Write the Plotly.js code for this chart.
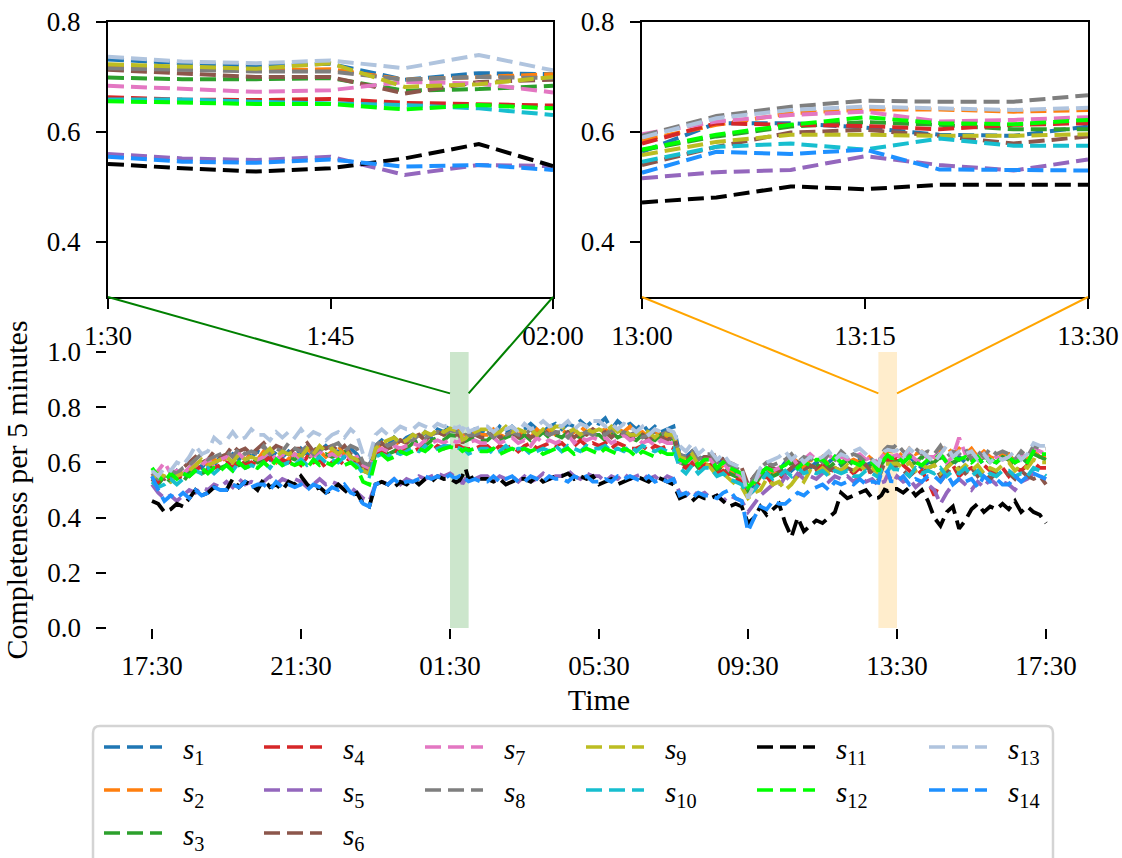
<!DOCTYPE html>
<html>
<head>
<meta charset="utf-8">
<script src="https://cdn.plot.ly/plotly-3.0.1.min.js"></script>
<style>html,body{margin:0;padding:0;background:#fff}#chart{width:1122px;height:858px}</style>
</head>
<body>
<div id="chart"></div>
<script>
// ---------- labels ----------
const seriesNames = ['s1','s2','s3','s4','s5','s6','s7','s8','s9','s10','s11','s12','s13','s14'];
const seriesColors = ['#1f77b4','#ff7f0e','#2ca02c','#d62728','#9467bd','#8c564b','#e377c2','#7f7f7f','#bcbd22','#17becf','#000000','#00ff00','#b0c4de','#1e90ff'];
const mainTickLabels = ['17:30','21:30','01:30','05:30','09:30','13:30','17:30'];
const inset1TickLabels = ['1:30','1:45','02:00'];
const inset2TickLabels = ['13:00','13:15','13:30'];
const xLabel = 'Time';
const yLabel = 'Completeness per 5 minutes';

// ---------- main series: every 10 minutes from 17:30 to 17:30 (next day), one line per hour ----------
const s1 = [0.55,0.53,0.56,0.54,0.57,0.55, 0.58,0.60,0.58,0.61,0.59,0.62, 0.61,0.63,0.61,0.64,0.62,0.64, 0.63,0.61,0.64,0.62,0.64,0.62,
  0.65,0.63,0.65,0.64,0.66,0.64, 0.64,0.62,0.65,0.63,0.59,0.58, 0.66,0.68,0.66,0.69,0.67,0.69, 0.70,0.68,0.71,0.69,0.72,0.71,
  0.732,0.720,0.695,0.705,0.72,0.71, 0.72,0.70,0.73,0.71,0.73,0.71, 0.72,0.74,0.72,0.71,0.73,0.74, 0.72,0.74,0.73,0.75,0.73,0.75,
  0.74,0.76,0.72,0.75,0.73,0.74, 0.72,0.74,0.71,0.73,0.71,0.72, 0.73,0.63,0.62,0.64,0.61,0.62, 0.62,0.59,0.61,0.58,0.56,0.55,
  0.50,0.52,0.56,0.58,0.55,0.57, 0.60,0.57,0.59,0.61,0.58,0.60, 0.58,0.60,0.62,0.59,0.61,0.60, 0.61,0.59,0.60,0.564,0.616,0.595,
  0.61,0.60,0.62,0.60,0.58,0.60, 0.61,0.63,0.60,0.59,0.62,0.60, 0.60,0.62,0.59,0.61,0.60,0.62, 0.63,0.60,0.62,0.60,0.64,0.62, 0.62];
const s2 = [0.56,0.54,0.55,0.57,0.55,0.57, 0.56,0.59,0.61,0.59,0.61,0.60, 0.62,0.60,0.63,0.61,0.63,0.61, 0.64,0.62,0.60,0.63,0.61,0.63,
  0.62,0.65,0.63,0.64,0.62,0.64, 0.66,0.63,0.64,0.62,0.58,0.57, 0.64,0.67,0.65,0.66,0.68,0.67, 0.69,0.70,0.68,0.70,0.71,0.70,
  0.718,0.712,0.695,0.705,0.71,0.70, 0.70,0.72,0.70,0.69,0.71,0.70, 0.71,0.69,0.72,0.70,0.72,0.70, 0.72,0.70,0.71,0.73,0.71,0.72,
  0.71,0.72,0.70,0.72,0.71,0.73, 0.70,0.71,0.69,0.71,0.70,0.69, 0.71,0.61,0.60,0.62,0.59,0.60, 0.60,0.57,0.59,0.57,0.55,0.54,
  0.48,0.51,0.55,0.58,0.56,0.57, 0.59,0.62,0.60,0.58,0.61,0.60, 0.62,0.59,0.61,0.63,0.60,0.61, 0.60,0.63,0.61,0.585,0.634,0.641,
  0.64,0.62,0.65,0.63,0.64,0.62, 0.61,0.64,0.66,0.63,0.65,0.63, 0.65,0.62,0.64,0.62,0.61,0.63, 0.63,0.60,0.62,0.61,0.64,0.62, 0.62];
const s3 = [0.54,0.52,0.55,0.53,0.55,0.53, 0.56,0.58,0.56,0.57,0.60,0.58, 0.59,0.61,0.59,0.60,0.62,0.60, 0.61,0.63,0.61,0.60,0.62,0.61,
  0.63,0.61,0.64,0.62,0.63,0.62, 0.63,0.65,0.62,0.61,0.57,0.56, 0.63,0.65,0.63,0.64,0.66,0.65, 0.67,0.68,0.66,0.68,0.69,0.68,
  0.699,0.696,0.675,0.684,0.69,0.68, 0.68,0.70,0.68,0.69,0.70,0.68, 0.70,0.68,0.69,0.71,0.69,0.70, 0.69,0.71,0.70,0.69,0.71,0.70,
  0.70,0.68,0.71,0.69,0.70,0.69, 0.68,0.70,0.69,0.68,0.70,0.68, 0.69,0.60,0.59,0.61,0.58,0.59, 0.60,0.57,0.59,0.56,0.55,0.54,
  0.49,0.52,0.55,0.57,0.55,0.56, 0.58,0.60,0.58,0.57,0.59,0.58, 0.61,0.58,0.60,0.59,0.61,0.59, 0.60,0.58,0.59,0.567,0.610,0.613,
  0.605,0.61,0.59,0.60,0.62,0.60, 0.60,0.62,0.59,0.60,0.61,0.60, 0.63,0.60,0.62,0.61,0.60,0.62, 0.61,0.59,0.62,0.60,0.63,0.62, 0.61];
const s4 = [0.55,0.53,0.56,0.54,0.55,0.54, 0.55,0.57,0.59,0.57,0.58,0.59, 0.60,0.58,0.61,0.59,0.60,0.59, 0.60,0.62,0.59,0.61,0.60,0.61,
  0.59,0.62,0.60,0.61,0.58,0.60, 0.61,0.59,0.62,0.60,0.58,0.57, 0.62,0.64,0.62,0.63,0.65,0.64, 0.64,0.65,0.66,0.64,0.66,0.65,
  0.663,0.658,0.653,0.648,0.65,0.66, 0.66,0.64,0.66,0.65,0.66,0.64, 0.66,0.67,0.65,0.66,0.67,0.66, 0.67,0.65,0.66,0.68,0.66,0.67,
  0.66,0.67,0.65,0.67,0.66,0.65, 0.65,0.66,0.64,0.66,0.65,0.66, 0.65,0.59,0.58,0.60,0.57,0.59, 0.59,0.56,0.57,0.55,0.54,0.53,
  0.48,0.50,0.53,0.55,0.52,0.54, 0.56,0.58,0.55,0.57,0.56,0.57, 0.59,0.56,0.58,0.57,0.58,0.56, 0.58,0.56,0.57,0.579,0.613,0.605,
  0.616,0.59,0.57,0.55,0.57,0.53, 0.48,0.53,0.56,0.59,0.55,0.57, 0.58,0.56,0.59,0.57,0.56,0.58, 0.55,0.58,0.57,0.59,0.60,0.58, 0.58];
const s5 = [0.52,0.49,0.47,0.48,0.46,0.48, 0.50,0.49,0.51,0.50,0.52,0.51, 0.53,0.51,0.54,0.52,0.53,0.52, 0.53,0.55,0.52,0.54,0.53,0.54,
  0.53,0.51,0.52,0.54,0.52,0.53, 0.52,0.50,0.51,0.49,0.47,0.46, 0.52,0.53,0.52,0.54,0.52,0.54, 0.53,0.55,0.54,0.55,0.56,0.55,
  0.560,0.549,0.522,0.538,0.54,0.55, 0.55,0.53,0.55,0.54,0.55,0.53, 0.55,0.53,0.54,0.56,0.54,0.55, 0.55,0.57,0.55,0.54,0.56,0.55,
  0.55,0.53,0.55,0.54,0.56,0.54, 0.55,0.56,0.54,0.55,0.53,0.55, 0.54,0.49,0.48,0.50,0.48,0.49, 0.47,0.48,0.46,0.48,0.47,0.46,
  0.42,0.45,0.48,0.50,0.52,0.51, 0.55,0.53,0.56,0.54,0.55,0.54, 0.56,0.53,0.55,0.54,0.55,0.53, 0.55,0.53,0.54,0.516,0.531,0.540,
  0.55,0.53,0.54,0.51,0.53,0.52, 0.50,0.45,0.49,0.52,0.54,0.52, 0.50,0.53,0.51,0.54,0.52,0.53, 0.52,0.50,0.53,0.54,0.56,0.55, 0.54];
const s6 = [0.53,0.55,0.54,0.57,0.55,0.58, 0.60,0.62,0.60,0.61,0.64,0.62, 0.63,0.66,0.64,0.65,0.63,0.65, 0.67,0.64,0.66,0.65,0.63,0.65,
  0.65,0.67,0.64,0.66,0.65,0.66, 0.64,0.66,0.63,0.62,0.58,0.57, 0.65,0.67,0.65,0.66,0.68,0.67, 0.69,0.70,0.68,0.70,0.71,0.70,
  0.713,0.700,0.670,0.695,0.70,0.69, 0.69,0.71,0.69,0.70,0.71,0.69, 0.71,0.69,0.70,0.72,0.70,0.71, 0.70,0.71,0.69,0.71,0.70,0.72,
  0.70,0.71,0.69,0.71,0.70,0.69, 0.69,0.70,0.68,0.70,0.69,0.68, 0.70,0.62,0.61,0.63,0.60,0.62, 0.62,0.63,0.61,0.60,0.59,0.58,
  0.52,0.55,0.57,0.59,0.58,0.57, 0.56,0.58,0.60,0.57,0.59,0.58, 0.59,0.57,0.58,0.56,0.58,0.57, 0.57,0.59,0.56,0.540,0.599,0.593,
  0.592,0.57,0.55,0.57,0.56,0.58, 0.59,0.55,0.57,0.56,0.58,0.56, 0.58,0.55,0.57,0.54,0.56,0.55, 0.56,0.54,0.57,0.55,0.54,0.55, 0.52];
const s7 = [0.55,0.57,0.60,0.56,0.57,0.56, 0.58,0.60,0.59,0.61,0.59,0.61, 0.62,0.60,0.63,0.61,0.62,0.61, 0.62,0.64,0.61,0.63,0.62,0.63,
  0.61,0.63,0.62,0.64,0.62,0.63, 0.62,0.64,0.61,0.62,0.59,0.58, 0.64,0.65,0.64,0.66,0.65,0.66, 0.67,0.66,0.68,0.67,0.68,0.67,
  0.684,0.673,0.691,0.672,0.68,0.67, 0.67,0.69,0.67,0.68,0.69,0.67, 0.68,0.66,0.69,0.67,0.68,0.67, 0.68,0.70,0.67,0.69,0.68,0.69,
  0.68,0.69,0.67,0.68,0.70,0.68, 0.69,0.67,0.68,0.66,0.68,0.67, 0.67,0.60,0.59,0.62,0.59,0.61, 0.61,0.58,0.60,0.57,0.56,0.55,
  0.51,0.53,0.56,0.58,0.57,0.58, 0.60,0.62,0.59,0.61,0.63,0.61, 0.61,0.63,0.60,0.62,0.61,0.62, 0.63,0.61,0.62,0.596,0.631,0.619,
  0.627,0.61,0.63,0.61,0.60,0.62, 0.62,0.64,0.60,0.62,0.69,0.63, 0.62,0.60,0.63,0.61,0.62,0.61, 0.62,0.60,0.63,0.62,0.65,0.64, 0.63];
const s8 = [0.56,0.54,0.55,0.57,0.56,0.58, 0.59,0.61,0.63,0.61,0.62,0.63, 0.64,0.62,0.65,0.63,0.64,0.63, 0.66,0.63,0.65,0.64,0.67,0.65,
  0.64,0.66,0.63,0.65,0.64,0.66, 0.67,0.64,0.66,0.65,0.60,0.59, 0.66,0.68,0.66,0.67,0.69,0.68, 0.68,0.70,0.69,0.70,0.71,0.70,
  0.716,0.710,0.695,0.698,0.70,0.71, 0.71,0.69,0.71,0.70,0.71,0.70, 0.70,0.72,0.70,0.71,0.70,0.71, 0.71,0.69,0.72,0.70,0.71,0.70,
  0.71,0.70,0.72,0.70,0.71,0.70, 0.71,0.69,0.70,0.71,0.70,0.71, 0.69,0.63,0.62,0.64,0.61,0.63, 0.63,0.60,0.61,0.59,0.58,0.57,
  0.50,0.55,0.58,0.60,0.59,0.60, 0.61,0.63,0.60,0.62,0.61,0.62, 0.60,0.63,0.61,0.64,0.62,0.63, 0.62,0.60,0.61,0.593,0.646,0.655,
  0.667,0.64,0.62,0.65,0.63,0.64, 0.63,0.66,0.62,0.64,0.63,0.65, 0.61,0.64,0.62,0.65,0.63,0.64, 0.63,0.61,0.64,0.62,0.66,0.65, 0.65];
const s9 = [0.54,0.56,0.55,0.53,0.55,0.56, 0.57,0.59,0.61,0.59,0.60,0.61, 0.62,0.60,0.63,0.61,0.62,0.61, 0.63,0.65,0.62,0.64,0.63,0.64,
  0.62,0.65,0.63,0.66,0.64,0.65, 0.63,0.65,0.62,0.61,0.57,0.56, 0.65,0.67,0.68,0.69,0.67,0.68, 0.70,0.69,0.71,0.70,0.72,0.71,
  0.723,0.715,0.682,0.700,0.71,0.72, 0.72,0.70,0.71,0.73,0.71,0.72, 0.71,0.72,0.70,0.72,0.71,0.73, 0.73,0.71,0.72,0.70,0.72,0.71,
  0.72,0.71,0.73,0.71,0.72,0.70, 0.70,0.72,0.71,0.69,0.71,0.70, 0.70,0.62,0.61,0.63,0.59,0.60, 0.58,0.55,0.56,0.54,0.52,0.51,
  0.47,0.49,0.50,0.54,0.52,0.53, 0.50,0.52,0.55,0.53,0.57,0.56, 0.58,0.56,0.58,0.57,0.59,0.57, 0.59,0.57,0.58,0.558,0.595,0.593,
  0.596,0.58,0.60,0.57,0.59,0.58, 0.59,0.56,0.58,0.60,0.57,0.59, 0.57,0.59,0.56,0.58,0.57,0.59, 0.60,0.57,0.59,0.58,0.61,0.60, 0.60];
const s10 = [0.53,0.51,0.52,0.54,0.52,0.54, 0.55,0.57,0.56,0.58,0.56,0.58, 0.59,0.57,0.60,0.58,0.59,0.58, 0.60,0.58,0.61,0.59,0.60,0.59,
  0.61,0.59,0.60,0.62,0.60,0.61, 0.60,0.62,0.60,0.59,0.56,0.55, 0.62,0.63,0.62,0.64,0.63,0.64, 0.65,0.64,0.66,0.64,0.65,0.66,
  0.659,0.655,0.649,0.631,0.64,0.65, 0.65,0.63,0.64,0.66,0.64,0.65, 0.65,0.63,0.64,0.65,0.64,0.66, 0.64,0.66,0.65,0.64,0.66,0.65,
  0.65,0.66,0.64,0.65,0.64,0.66, 0.64,0.66,0.65,0.64,0.65,0.64, 0.65,0.58,0.56,0.59,0.56,0.58, 0.58,0.55,0.56,0.54,0.53,0.52,
  0.48,0.50,0.53,0.56,0.54,0.55, 0.57,0.55,0.58,0.56,0.57,0.56, 0.57,0.55,0.57,0.56,0.57,0.55, 0.55,0.57,0.56,0.546,0.579,0.588,
  0.575,0.57,0.55,0.58,0.56,0.57, 0.56,0.58,0.55,0.57,0.56,0.58, 0.55,0.57,0.54,0.56,0.55,0.57, 0.57,0.55,0.56,0.55,0.58,0.57, 0.55];
const s11 = [0.46,0.45,0.42,0.43,0.45,0.44, 0.47,0.50,0.48,0.49,0.51,0.50, 0.50,0.54,0.51,0.53,0.52,0.50, 0.54,0.51,0.52,0.50,0.53,0.52,
  0.55,0.52,0.50,0.51,0.49,0.50, 0.52,0.50,0.48,0.49,0.45,0.44, 0.52,0.53,0.52,0.51,0.53,0.52, 0.54,0.52,0.54,0.53,0.55,0.54,
  0.542,0.528,0.552,0.538,0.55,0.54, 0.54,0.53,0.54,0.52,0.53,0.54, 0.54,0.53,0.55,0.53,0.54,0.55, 0.55,0.56,0.54,0.55,0.54,0.55,
  0.52,0.53,0.54,0.52,0.53,0.54, 0.55,0.54,0.53,0.55,0.54,0.53, 0.52,0.47,0.48,0.46,0.48,0.47, 0.47,0.48,0.46,0.44,0.45,0.44,
  0.38,0.40,0.44,0.41,0.43,0.45, 0.38,0.33,0.40,0.35,0.37,0.39, 0.38,0.40,0.42,0.49,0.47,0.48, 0.49,0.50,0.47,0.472,0.501,0.504,
  0.504,0.49,0.51,0.48,0.50,0.46, 0.40,0.37,0.42,0.44,0.36,0.39, 0.43,0.45,0.42,0.44,0.43,0.45, 0.43,0.46,0.42,0.44,0.42,0.41, 0.38];
const s12 = [0.58,0.55,0.53,0.56,0.54,0.56, 0.55,0.57,0.58,0.56,0.58,0.57, 0.59,0.57,0.60,0.58,0.59,0.58, 0.60,0.58,0.61,0.59,0.60,0.59,
  0.60,0.58,0.61,0.59,0.60,0.59, 0.61,0.59,0.60,0.58,0.53,0.52, 0.61,0.63,0.61,0.62,0.64,0.63, 0.64,0.65,0.64,0.66,0.64,0.65,
  0.656,0.651,0.641,0.643,0.65,0.64, 0.64,0.65,0.63,0.64,0.65,0.64, 0.65,0.64,0.65,0.63,0.64,0.65, 0.64,0.65,0.63,0.64,0.65,0.64,
  0.63,0.65,0.64,0.63,0.65,0.64, 0.62,0.64,0.63,0.62,0.64,0.63, 0.63,0.61,0.60,0.62,0.59,0.61, 0.61,0.58,0.60,0.58,0.57,0.56,
  0.51,0.53,0.56,0.58,0.57,0.58, 0.59,0.61,0.58,0.60,0.59,0.61, 0.61,0.59,0.62,0.60,0.61,0.60, 0.59,0.61,0.60,0.568,0.613,0.616,
  0.622,0.60,0.62,0.60,0.59,0.61, 0.61,0.63,0.60,0.62,0.61,0.62, 0.60,0.62,0.59,0.61,0.60,0.62, 0.62,0.60,0.61,0.60,0.64,0.63, 0.63];
const s13 = [0.57,0.55,0.58,0.57,0.60,0.59, 0.62,0.66,0.63,0.64,0.69,0.67, 0.68,0.71,0.68,0.69,0.72,0.70, 0.70,0.68,0.71,0.69,0.71,0.69,
  0.72,0.69,0.71,0.70,0.68,0.70, 0.71,0.69,0.72,0.70,0.63,0.62, 0.70,0.72,0.70,0.71,0.73,0.72, 0.72,0.74,0.73,0.72,0.74,0.73,
  0.737,0.725,0.716,0.712,0.72,0.73, 0.73,0.71,0.73,0.72,0.73,0.71, 0.74,0.72,0.73,0.75,0.73,0.74, 0.73,0.75,0.72,0.74,0.73,0.75,
  0.75,0.73,0.74,0.72,0.74,0.73, 0.71,0.73,0.70,0.72,0.71,0.72, 0.71,0.66,0.64,0.67,0.63,0.65, 0.64,0.61,0.63,0.60,0.59,0.58,
  0.47,0.52,0.58,0.60,0.61,0.62, 0.64,0.61,0.63,0.60,0.62,0.61, 0.62,0.64,0.61,0.63,0.62,0.64, 0.65,0.63,0.61,0.590,0.640,0.643,
  0.644,0.62,0.65,0.63,0.64,0.62, 0.60,0.63,0.66,0.62,0.64,0.63, 0.64,0.61,0.63,0.60,0.62,0.61, 0.62,0.64,0.61,0.63,0.67,0.66, 0.66];
const s14 = [0.55,0.50,0.46,0.48,0.47,0.49, 0.47,0.50,0.48,0.49,0.51,0.50, 0.50,0.52,0.51,0.53,0.51,0.52, 0.52,0.50,0.53,0.51,0.52,0.51,
  0.52,0.50,0.52,0.51,0.49,0.51, 0.50,0.52,0.49,0.48,0.45,0.44, 0.52,0.53,0.52,0.54,0.52,0.53, 0.53,0.54,0.55,0.54,0.55,0.54,
  0.555,0.544,0.537,0.531,0.54,0.53, 0.53,0.55,0.53,0.54,0.55,0.53, 0.53,0.55,0.54,0.53,0.55,0.54, 0.54,0.53,0.55,0.54,0.55,0.53,
  0.53,0.54,0.53,0.55,0.54,0.55, 0.54,0.53,0.55,0.53,0.54,0.53, 0.54,0.48,0.49,0.47,0.49,0.48, 0.48,0.47,0.49,0.50,0.47,0.46,
  0.35,0.40,0.44,0.43,0.46,0.45, 0.45,0.47,0.49,0.48,0.50,0.51, 0.52,0.50,0.53,0.52,0.53,0.52, 0.54,0.52,0.53,0.526,0.560,0.532,
  0.53,0.55,0.52,0.54,0.53,0.55, 0.55,0.53,0.56,0.52,0.54,0.53, 0.54,0.51,0.55,0.53,0.54,0.52, 0.52,0.55,0.53,0.55,0.56,0.55, 0.54];

// ---------- zoomed windows: every 5 minutes, 01:30-02:00 ----------
const win1_s1  = [0.732,0.725,0.720,0.724,0.695,0.707,0.705];
const win1_s2  = [0.718,0.714,0.712,0.714,0.695,0.700,0.705];
const win1_s3  = [0.699,0.696,0.696,0.698,0.675,0.678,0.684];
const win1_s4  = [0.663,0.659,0.658,0.660,0.653,0.650,0.648];
const win1_s5  = [0.560,0.552,0.549,0.555,0.522,0.540,0.538];
const win1_s6  = [0.713,0.707,0.700,0.700,0.670,0.691,0.695];
const win1_s7  = [0.684,0.679,0.673,0.676,0.691,0.688,0.672];
const win1_s8  = [0.716,0.713,0.710,0.710,0.695,0.700,0.698];
const win1_s9  = [0.723,0.719,0.715,0.725,0.682,0.687,0.700];
const win1_s10 = [0.659,0.659,0.655,0.652,0.649,0.643,0.631];
const win1_s11 = [0.542,0.534,0.528,0.534,0.552,0.578,0.538];
const win1_s12 = [0.656,0.653,0.651,0.651,0.641,0.649,0.643];
const win1_s13 = [0.737,0.728,0.725,0.730,0.716,0.740,0.712];
const win1_s14 = [0.555,0.546,0.544,0.550,0.537,0.540,0.531];

// ---------- zoomed windows: every 5 minutes, 13:00-13:30 ----------
const win2_s1  = [0.564,0.616,0.616,0.608,0.595,0.593,0.610];
const win2_s2  = [0.585,0.613,0.634,0.641,0.641,0.637,0.640];
const win2_s3  = [0.567,0.592,0.610,0.618,0.613,0.605,0.605];
const win2_s4  = [0.579,0.616,0.613,0.611,0.605,0.613,0.616];
const win2_s5  = [0.516,0.527,0.531,0.556,0.540,0.530,0.550];
const win2_s6  = [0.540,0.573,0.599,0.604,0.593,0.579,0.592];
const win2_s7  = [0.596,0.619,0.631,0.637,0.619,0.622,0.627];
const win2_s8  = [0.593,0.629,0.646,0.657,0.655,0.655,0.667];
const win2_s9  = [0.558,0.582,0.595,0.595,0.593,0.593,0.596];
const win2_s10 = [0.546,0.573,0.579,0.568,0.588,0.575,0.575];
const win2_s11 = [0.472,0.481,0.501,0.496,0.504,0.504,0.504];
const win2_s12 = [0.568,0.595,0.613,0.627,0.616,0.614,0.622];
const win2_s13 = [0.590,0.625,0.640,0.646,0.643,0.640,0.644];
const win2_s14 = [0.526,0.564,0.560,0.568,0.532,0.531,0.530];

// ---------- assemble ----------
const baseSeries = [s1,s2,s3,s4,s5,s6,s7,s8,s9,s10,s11,s12,s13,s14];
const win1Series = [win1_s1,win1_s2,win1_s3,win1_s4,win1_s5,win1_s6,win1_s7,win1_s8,win1_s9,win1_s10,win1_s11,win1_s12,win1_s13,win1_s14];
const win2Series = [win2_s1,win2_s2,win2_s3,win2_s4,win2_s5,win2_s6,win2_s7,win2_s8,win2_s9,win2_s10,win2_s11,win2_s12,win2_s13,win2_s14];

// x in hours since 17:30
const BASE_STEP = 10/60, WIN_STEP = 5/60;
const W1 = [8, 8.5], W2 = [19.5, 20];
const inWin = (h, w) => h >= w[0] - 1e-6 && h <= w[1] + 1e-6;
const winX = (w, n) => Array.from({length:n}, (_, j) => w[0] + j*WIN_STEP);

const DASH = '16px,7px';
const LW_MAIN = 3.8, LW_INSET = 4;
const traces = [];
baseSeries.forEach((arr, k) => {
  const pts = [];
  arr.forEach((v, i) => { const h = i*BASE_STEP; if (!inWin(h, W1) && !inWin(h, W2)) pts.push([h, v]); });
  win1Series[k].forEach((v, j) => pts.push([W1[0] + j*WIN_STEP, v]));
  win2Series[k].forEach((v, j) => pts.push([W2[0] + j*WIN_STEP, v]));
  pts.sort((a, b) => a[0] - b[0]);
  traces.push({type:'scatter', mode:'lines', name:seriesNames[k], x:pts.map(p=>p[0]), y:pts.map(p=>p[1]),
    xaxis:'x', yaxis:'y', line:{color:seriesColors[k], width:LW_MAIN, dash:DASH}, showlegend:false, hoverinfo:'skip'});
});
baseSeries.forEach((arr, k) => {
  traces.push({type:'scatter', mode:'lines', name:seriesNames[k], x:winX(W1, win1Series[k].length), y:win1Series[k],
    xaxis:'x2', yaxis:'y2', line:{color:seriesColors[k], width:LW_INSET, dash:DASH}, showlegend:false, hoverinfo:'skip'});
});
baseSeries.forEach((arr, k) => {
  traces.push({type:'scatter', mode:'lines', name:seriesNames[k], x:winX(W2, win2Series[k].length), y:win2Series[k],
    xaxis:'x3', yaxis:'y3', line:{color:seriesColors[k], width:LW_INSET, dash:DASH}, showlegend:false, hoverinfo:'skip'});
});

// ---------- geometry ----------
const W = 1122, H = 858;
const px2x = px => px / W, px2y = py => 1 - py / H;
const mainXDom = [px2x(107.3), px2x(1090.7)], mainYDom = [px2y(628), px2y(352)];
const mainXRange = [-1.2, 25.2], mainYRange = [0, 1];
const ins1XDom = [px2x(108), px2x(553)], ins2XDom = [px2x(642), px2x(1088)], insYDom = [px2y(297), px2y(22)];
const mainPX = h => mainXDom[0] + (h - mainXRange[0])/(mainXRange[1]-mainXRange[0])*(mainXDom[1]-mainXDom[0]);
const mainPY = v => mainYDom[0] + (v - mainYRange[0])/(mainYRange[1]-mainYRange[0])*(mainYDom[1]-mainYDom[0]);

const FONT = 'Liberation Serif, Times New Roman, serif';
const tickFont = {family:FONT, size:27, color:'#000'};
const titleFont = {family:FONT, size:30, color:'#000'};

const shapes = [
  {type:'rect', xref:'x', yref:'y', x0:W1[0], x1:W1[1], y0:0, y1:1, fillcolor:'rgba(0,128,0,0.2)', line:{width:0}, layer:'below'},
  {type:'rect', xref:'x', yref:'y', x0:W2[0], x1:W2[1], y0:0, y1:1, fillcolor:'rgba(255,165,0,0.2)', line:{width:0}, layer:'below'},
  {type:'line', xref:'paper', yref:'paper', x0:ins1XDom[0], y0:insYDom[0], x1:mainPX(W1[0]), y1:mainPY(0.85), line:{color:'#008000', width:2}},
  {type:'line', xref:'paper', yref:'paper', x0:ins1XDom[1], y0:insYDom[0], x1:mainPX(W1[1]), y1:mainPY(0.85), line:{color:'#008000', width:2}},
  {type:'line', xref:'paper', yref:'paper', x0:ins2XDom[0], y0:insYDom[0], x1:mainPX(W2[0]), y1:mainPY(0.85), line:{color:'#ffa500', width:2}},
  {type:'line', xref:'paper', yref:'paper', x0:ins2XDom[1], y0:insYDom[0], x1:mainPX(W2[1]), y1:mainPY(0.85), line:{color:'#ffa500', width:2}}
];

// legend box (rounded) in pixels -> paper
const lb = {l:93, t:726, r:1053, b:880, rad:7};
const P = (x, y) => px2x(x).toFixed(5) + ',' + px2y(y).toFixed(5);
shapes.push({type:'path', xref:'paper', yref:'paper', layer:'above',
  path:'M' + P(lb.l+lb.rad, lb.t) + ' L' + P(lb.r-lb.rad, lb.t) + ' Q' + P(lb.r, lb.t) + ' ' + P(lb.r, lb.t+lb.rad) +
       ' L' + P(lb.r, lb.b) + ' L' + P(lb.l, lb.b) + ' L' + P(lb.l, lb.t+lb.rad) + ' Q' + P(lb.l, lb.t) + ' ' + P(lb.l+lb.rad, lb.t) + ' Z',
  fillcolor:'rgba(255,255,255,0.8)', line:{color:'#d4d4d4', width:2.5}});

// legend entries, column-major like the original (6 columns)
const legColX = [104, 264, 425, 586, 757, 929];
const legRowY = [747, 790, 833];
const perCol = [3, 3, 2, 2, 2, 2];
const annotations = [];
let idx = 0;
perCol.forEach((n, c) => {
  for (let r = 0; r < n; r++, idx++) {
    const y = legRowY[r], x = legColX[c];
    shapes.push({type:'line', xref:'paper', yref:'paper', x0:px2x(x), x1:px2x(x+58), y0:px2y(y), y1:px2y(y),
      line:{color:seriesColors[idx], width:3.5, dash:DASH}, layer:'above'});
    const num = seriesNames[idx].slice(1);
    annotations.push({xref:'paper', yref:'paper', x:px2x(x+77), y:px2y(y+4), xanchor:'left', yanchor:'middle',
      text:'<i>s</i><sub>' + num + '</sub>', showarrow:false, font:{family:FONT, size:29, color:'#000'}});
  }
});

const axCommon = {ticks:'outside', ticklen:10, tickwidth:2, tickcolor:'#000', showgrid:false, zeroline:false,
  tickfont:tickFont, automargin:false, fixedrange:true};

const layout = {
  width:W, height:H, margin:{l:0, r:0, t:0, b:0}, paper_bgcolor:'#fff', plot_bgcolor:'rgba(0,0,0,0)',
  showlegend:false, font:{family:FONT, size:27, color:'#000'},
  xaxis:Object.assign({}, axCommon, {domain:mainXDom, range:mainXRange, anchor:'y', showline:false,
    tickmode:'array', tickvals:[0,4,8,12,16,20,24], ticktext:mainTickLabels, ticklabelstandoff:4,
    title:{text:xLabel, font:titleFont, standoff:8}}),
  yaxis:Object.assign({}, axCommon, {domain:mainYDom, range:mainYRange, anchor:'x', showline:false,
    tickmode:'array', tickvals:[0,0.2,0.4,0.6,0.8,1.0], tickformat:'.1f', ticklabelstandoff:10,
    title:{text:yLabel, font:titleFont, standoff:10}}),
  xaxis2:Object.assign({}, axCommon, {domain:ins1XDom, range:W1, anchor:'y2', showline:true, mirror:true, linewidth:2, linecolor:'#000',
    tickmode:'array', tickvals:[W1[0], (W1[0]+W1[1])/2, W1[1]], ticktext:inset1TickLabels, ticklabelstandoff:4}),
  yaxis2:Object.assign({}, axCommon, {domain:insYDom, range:[0.3,0.8], anchor:'x2', showline:true, mirror:true, linewidth:2, linecolor:'#000',
    tickmode:'array', tickvals:[0.4,0.6,0.8], tickformat:'.1f', ticklabelstandoff:10}),
  xaxis3:Object.assign({}, axCommon, {domain:ins2XDom, range:W2, anchor:'y3', showline:true, mirror:true, linewidth:2, linecolor:'#000',
    tickmode:'array', tickvals:[W2[0], (W2[0]+W2[1])/2, W2[1]], ticktext:inset2TickLabels, ticklabelstandoff:4}),
  yaxis3:Object.assign({}, axCommon, {domain:insYDom, range:[0.3,0.8], anchor:'x3', showline:true, mirror:true, linewidth:2, linecolor:'#000',
    tickmode:'array', tickvals:[0.4,0.6,0.8], tickformat:'.1f', ticklabelstandoff:10}),
  shapes:shapes, annotations:annotations
};

Plotly.newPlot('chart', traces, layout, {staticPlot:true, displayModeBar:false});
</script>
</body>
</html>
